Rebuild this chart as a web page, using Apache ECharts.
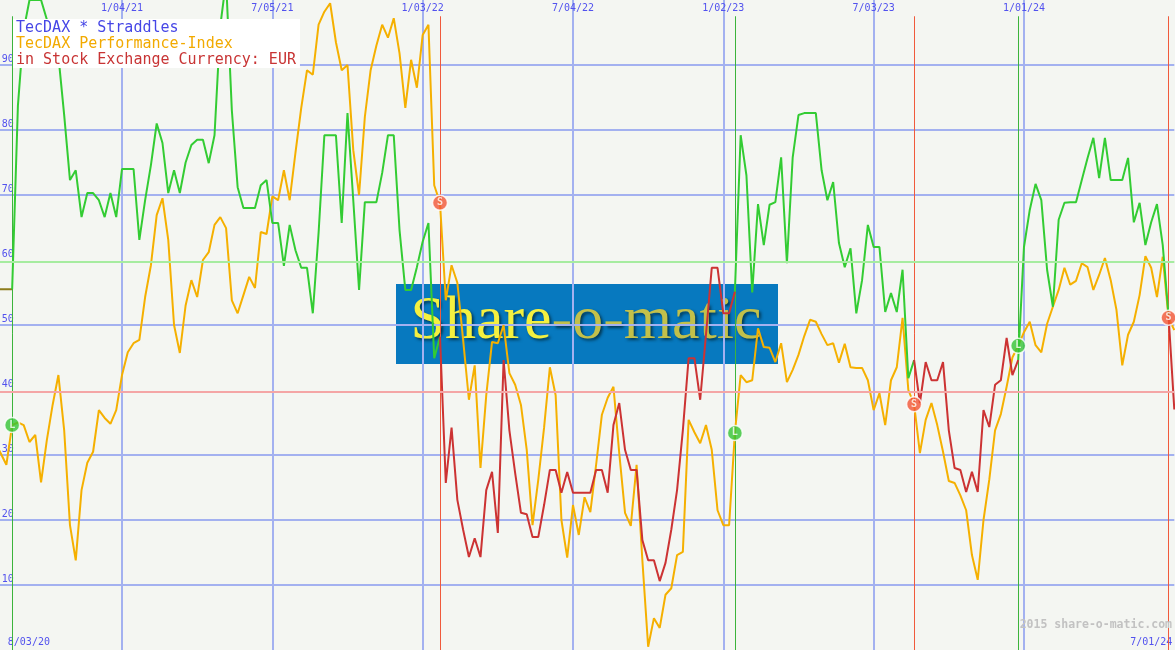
<!DOCTYPE html>
<html><head><meta charset="utf-8">
<script src="https://cdn.jsdelivr.net/npm/echarts@6/dist/echarts.min.js"></script>
<style>html,body{margin:0;padding:0;background:#f4f6f2}#c{width:1175px;height:650px}</style>
</head><body><div id="c"></div>
<script>
// ---- categories: weekly dates from 8/03/20 to 7/01/24 ----
const weekCount = 205;
const categories = [];
for (let i = 0; i < weekCount; i++) {
  const d = new Date(Date.UTC(2020, 7, 3 + 7 * i));
  categories.push((d.getUTCMonth() + 1) + '/' + String(d.getUTCDate()).padStart(2, '0') + '/' + String(d.getUTCFullYear()).slice(2));
}
const topTickLabels = ['1/04/21', '7/05/21', '1/03/22', '7/04/22', '1/02/23', '7/03/23', '1/01/24'];
const bottomTickLabels = ['8/03/20', '7/01/24'];
const yTickLabels = [10, 20, 30, 40, 50, 60, 70, 80, 90];

// TecDAX * Straddles (coloured by position state)
const straddle = [
  55.5, 55.5, 55.5, 55.5, 83.8, 95.4, 100, 100, 100, 97,
  94, 91.4, 82.3, 72.3, 73.8, 66.6, 70.3, 70.3, 69.2, 66.6,
  70.3, 66.6, 74, 74, 74, 63.1, 69.2, 74.6, 81, 78,
  70.3, 73.8, 70.3, 75, 77.7, 78.5, 78.5, 74.9, 79.2, 96,
  103, 83, 71.2, 68, 68, 68, 71.5, 72.3, 65.7, 65.7,
  59.1, 65.4, 61.5, 58.8, 58.8, 51.8, 64.2, 79.2, 79.2, 79.2,
  65.7, 82.6, 69.2, 55.4, 68.9, 68.9, 68.9, 73.4, 79.2, 79.2,
  64.6, 55.4, 55.4, 58.9, 62.8, 65.7, 44.9, 48.2, 25.7, 34.2,
  23.1, 18.5, 14.3, 17.2, 14.3, 24.6, 27.4, 18, 44.6, 33.8,
  27.2, 21.1, 20.9, 17.4, 17.4, 22.3, 27.7, 27.7, 24.2, 27.4,
  24.2, 24.2, 24.2, 24.2, 27.7, 27.7, 24.2, 34.6, 38, 30.8,
  27.7, 27.7, 16.9, 13.8, 13.8, 10.6, 13.4, 18.5, 24.6, 33.8,
  44.9, 44.9, 38.5, 48.5, 58.8, 58.8, 51.8, 51.8, 55.1, 79.2,
  73, 55, 68.6, 62.3, 68.5, 68.9, 75.8, 59.5, 75.8, 82.3,
  82.6, 82.6, 82.6, 73.8, 69.2, 72, 62.6, 58.9, 61.8, 51.8,
  56.9, 65.4, 62, 62, 52, 54.9, 52, 58.5, 41.8, 44.6,
  38, 44.3, 41.5, 41.5, 44.3, 33.8, 28, 27.7, 24.3, 27.4,
  24.3, 36.9, 34.3, 40.8, 41.5, 48, 42.3, 44.6, 62, 67.7,
  71.7, 69.2, 58.5, 52.8, 66.2, 68.8, 68.9, 68.9, 72.3, 75.7,
  78.8, 72.6, 78.8, 72.3, 72.3, 72.3, 75.7, 65.8, 68.8, 62.3,
  65.8, 68.6, 62.3, 51.5, 37
];

// TecDAX Performance-Index
const performance = [
  32, 30.3, 28.5, 34.6, 35, 34.6, 32, 33.1, 25.8, 32.3,
  37.7, 42.3, 33.8, 19.2, 13.8, 24.6, 28.8, 30.5, 36.9, 35.7,
  34.8, 36.9, 42.3, 45.8, 47.2, 47.7, 54.3, 59.2, 66.9, 69.5,
  63.1, 50, 45.7, 53, 56.9, 54.3, 60, 61.2, 65.4, 66.6,
  64.9, 53.8, 51.8, 54.6, 57.4, 55.7, 64.3, 64, 69.8, 69.2,
  73.8, 69.2, 76.5, 83.4, 89.2, 88.5, 96.2, 98.2, 99.5, 93.5,
  89.2, 90, 76.9, 70, 82, 89.2, 93, 96.2, 94.2, 97.2,
  91.8, 83.4, 90.8, 86.5, 94.6, 96.2, 71.5, 68.8, 53.8, 59.2,
  56.5, 47.7, 38.5, 43.8, 28, 39.2, 47.4, 47.2, 50, 42.6,
  40.8, 37.7, 30.8, 19.2, 26.2, 34.2, 43.5, 39.2, 20, 14.2,
  22.3, 17.7, 23.5, 21.2, 28.5, 36.2, 38.8, 40.5, 30.3, 21.1,
  19.1, 28.5, 13.8, 0.5, 4.9, 3.4, 8.5, 9.5, 14.6, 15.1,
  35.4, 33.5, 31.8, 34.6, 30.8, 21.5, 19.2, 19.2, 33.4, 42.3,
  41.2, 41.5, 49.5, 46.6, 46.5, 44.3, 47.2, 41.2, 43.1, 45.4,
  48.3, 50.8, 50.5, 48.6, 46.9, 47.2, 44.2, 47.1, 43.5, 43.4,
  43.4, 41.5, 36.9, 39.5, 34.6, 41.5, 43.5, 51.1, 40, 37.8,
  30.3, 35.4, 38, 34.6, 30.5, 26, 25.7, 23.8, 21.5, 14.6,
  10.8, 20, 26.2, 33.8, 36.3, 40.5, 45, 46.8, 48.9, 50.5,
  46.9, 45.8, 50.2, 52.8, 55.4, 58.8, 56.2, 56.8, 59.5, 58.9,
  55.4, 57.7, 60.3, 56.9, 52.3, 43.8, 48.5, 50.5, 54.6, 60.6,
  58.8, 54.3, 60.5, 51.1, 49.2
];

// trading signals (L = long, S = short)
const signalWeeks = ['8/24/20', '1/24/22', '1/16/23', '8/21/23', '12/25/23', '6/24/24'];
const signalTypes = ['L', 'S', 'L', 'S', 'L', 'S'];
const thresholds = [59.7, 39.75];

// ---- build coloured segments ----
const sigIdx = signalWeeks.map(w => categories.indexOf(w));
const stateAt = i => {
  let s = 'N';
  for (let k = 0; k < sigIdx.length; k++) if (i >= sigIdx[k]) s = signalTypes[k];
  return s;
};
const olive = [], green = [], red = [];
for (let i = 0; i < weekCount; i++) {
  const s = stateAt(i);
  const sPrev = i > 0 ? stateAt(i - 1) : s;
  const v = straddle[i];
  olive.push(s === 'N' || sPrev === 'N' ? v : null);
  green.push(s === 'L' || sPrev === 'L' ? v : null);
  red.push(s === 'S' || sPrev === 'S' ? v : null);
}
for (let k = 0; k < sigIdx.length; k++) {
  const i = sigIdx[k];
  const prev = k === 0 ? 'N' : signalTypes[k - 1];
  if (prev === 'N') olive[i] = straddle[i];
  if (prev === 'L') green[i] = straddle[i];
  if (prev === 'S') red[i] = straddle[i];
}

const topIdx = topTickLabels.map(l => categories.indexOf(l));
const botIdx = bottomTickLabels.map(l => categories.indexOf(l));
const mono = '"DejaVu Sans Mono", monospace';
const gridColor = '#a3b1f0';
const labelColor = '#5252ee';
const hidden = 'rgba(0,0,0,0)';
const splitColors = [0,10,20,30,40,50,60,70,80,90,100].map(v =>
  (v === 0 || v === 100 || thresholds.some(t => Math.abs(t - v) < 1)) ? hidden : gridColor);

const chart = echarts.init(document.getElementById('c'), null, {renderer: 'canvas'});
chart.setOption({
  backgroundColor: '#f4f6f2',
  animation: false,
  title: {
    left: 13, top: 19, padding: [1, 4, 0, 3], backgroundColor: '#ffffff', z: 100,
    text: '{a|TecDAX * Straddles}\n{b|TecDAX Performance-Index}\n{c|in Stock Exchange Currency: EUR}',
    textStyle: {
      fontFamily: mono, fontSize: 15, lineHeight: 16, fontWeight: 'normal',
      rich: {
        a: {color: '#4646e6', fontFamily: mono, fontSize: 15, lineHeight: 16},
        b: {color: '#f2aa00', fontFamily: mono, fontSize: 15, lineHeight: 16},
        c: {color: '#c83434', fontFamily: mono, fontSize: 15, lineHeight: 16}
      }
    }
  },
  grid: {left: -5.2, right: 0.7, top: 0, bottom: 0, containLabel: false, outerBoundsMode: 'none'},
  xAxis: [{
    type: 'category', data: categories, boundaryGap: false, position: 'top',
    axisLine: {show: false}, axisTick: {show: false},
    axisLabel: {inside: true, margin: 3, color: labelColor, fontFamily: mono, fontSize: 10,
      interval: (i) => topIdx.includes(i)},
    splitLine: {show: true, interval: (i) => topIdx.includes(i), lineStyle: {color: gridColor, width: 2}}
  }, {
    type: 'category', data: categories, boundaryGap: false, position: 'bottom',
    axisLine: {show: false}, axisTick: {show: false}, splitLine: {show: false},
    axisLabel: {inside: true, margin: 3, color: labelColor, fontFamily: mono, fontSize: 10,
      showMinLabel: true, showMaxLabel: true,
      alignMinLabel: 'left', alignMaxLabel: 'right',
      interval: (i) => botIdx.includes(i),
      formatter: (v, i) => i === 0 ? '{l|' + v + '}' : '{r|' + v + '}',
      rich: {
        l: {padding: [0, 0, 0, 13], color: labelColor, fontFamily: mono, fontSize: 10},
        r: {padding: [0, 2, 0, 0], color: labelColor, fontFamily: mono, fontSize: 10}
      }}
  }],
  yAxis: {
    type: 'value', min: 0, max: 100, interval: 10,
    axisLine: {show: false}, axisTick: {show: false},
    axisLabel: {inside: true, margin: 7, color: labelColor, fontFamily: mono, fontSize: 10,
      verticalAlign: 'bottom', padding: [0, 0, 1, 0],
      formatter: v => yTickLabels.includes(v) ? String(v) : ''},
    splitLine: {show: true, lineStyle: {color: splitColors, width: 2}}
  },
  graphic: [{
    type: 'rect', z: -10, silent: true,
    shape: {x: 396, y: 284, width: 382, height: 80},
    style: {fill: '#0779bf'}
  }, {
    type: 'text', z: -9, silent: true, x: 586, y: 322,
    style: {
      text: '{a|Share}{b|-o-matic}',
      align: 'center', verticalAlign: 'middle',
      rich: {
        a: {font: '62px "Liberation Serif", serif', fill: '#f4f040', textShadowColor: 'rgba(0,30,40,0.7)', textShadowBlur: 3, textShadowOffsetX: 2, textShadowOffsetY: 2},
        b: {font: '62px "Liberation Serif", serif', fill: '#c2c04a', textShadowColor: 'rgba(0,30,40,0.7)', textShadowBlur: 3, textShadowOffsetX: 2, textShadowOffsetY: 2}
      }
    }
  }, {
    type: 'text', z: 50, silent: true, x: 1172, y: 625,
    style: {text: '2015 share-o-matic.com', font: 'bold 11.5px "DejaVu Sans Mono", monospace',
      fill: '#c2c2c2', align: 'right', verticalAlign: 'middle'}
  }],
  series: [{
    name: 'TecDAX Performance-Index', type: 'line', data: performance, xAxisIndex: 0,
    showSymbol: false, symbol: 'none', z: 3,
    lineStyle: {color: '#f5b000', width: 2}, itemStyle: {color: '#f5b000'}
  }, {
    name: 'neutral', type: 'line', data: olive, xAxisIndex: 0, symbol: 'none', z: 2,
    lineStyle: {color: '#8c7c1c', width: 2}, connectNulls: false,
    markLine: {silent: true, symbol: ['none', 'none'], label: {show: false},
      data: [{yAxis: thresholds[0], lineStyle: {color: '#a6eca0', width: 2, type: 'solid'}},
             {yAxis: thresholds[1], lineStyle: {color: '#f4a6a6', width: 2, type: 'solid'}}]}
  }, {
    name: 'TecDAX * Straddles long', type: 'line', data: green, xAxisIndex: 0, symbol: 'none', z: 4,
    lineStyle: {color: '#33cc33', width: 2}, connectNulls: false
  }, {
    name: 'TecDAX * Straddles short', type: 'line', data: red, xAxisIndex: 0, symbol: 'none', z: 4,
    lineStyle: {color: '#cc3333', width: 2}, connectNulls: false
  }, {
    name: 'signals', type: 'scatter', xAxisIndex: 0, z: 6,
    data: sigIdx.map((i, k) => ({
      value: [i, performance[i]],
      itemStyle: {color: signalTypes[k] === 'L' ? '#33c433' : '#f25535', borderColor: '#ffffff', borderWidth: 1.5},
      label: {formatter: signalTypes[k]}
    })),
    symbol: 'circle', symbolSize: 15,
    label: {show: true, position: 'inside', color: '#ffffff', fontFamily: mono, fontSize: 10, fontWeight: 'bold'},
    markLine: {silent: true, symbol: ['none', 'none'], label: {show: false}, z: 1,
      data: sigIdx.map((i, k) => [
        {coord: [i, 97.5], lineStyle: {color: signalTypes[k] === 'L' ? '#3cb43c' : '#f05a3c', width: 1, type: 'solid'}},
        {coord: [i, 0]}
      ])}
  }]
});
</script>
</body></html>
